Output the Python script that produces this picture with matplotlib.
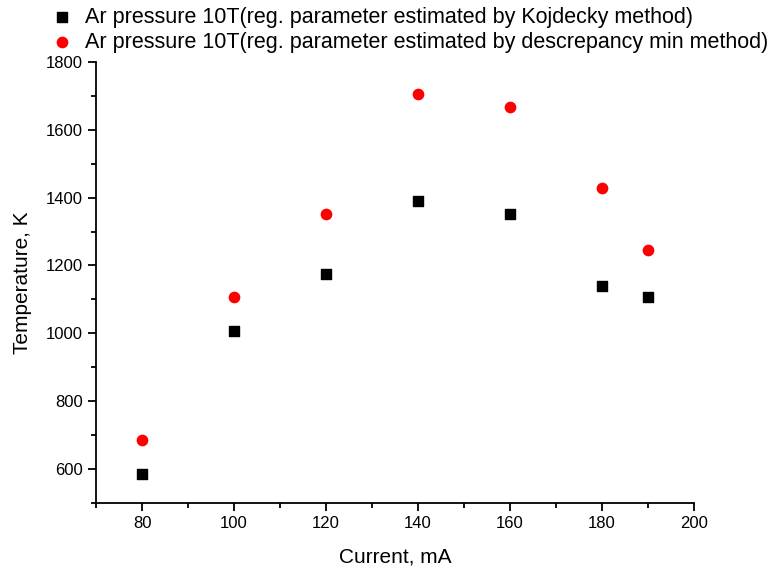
import matplotlib.pyplot as plt
from matplotlib.ticker import MultipleLocator

plt.rcParams['font.family'] = ['Liberation Sans', 'DejaVu Sans']

# Data
current = [80, 100, 120, 140, 160, 180, 190]
temp_kojdecky = [585, 1008, 1174, 1390, 1353, 1139, 1106]
temp_discrepancy = [686, 1106, 1353, 1706, 1667, 1429, 1245]

labels = ['Ar pressure 10T(reg. parameter estimated by Kojdecky method)',
          'Ar pressure 10T(reg. parameter estimated by descrepancy min method)']

fig = plt.figure(figsize=(7.72, 5.73), dpi=100)
ax = fig.add_axes([0.1244, 0.1222, 0.7746, 0.7698])

ax.scatter(current, temp_kojdecky, marker='s', s=50, color='black', label=labels[0], zorder=3)
ax.scatter(current, temp_discrepancy, marker='o', s=55, color='#ff0000', label=labels[1], zorder=3)

ax.set_xlim(70, 200)
ax.set_ylim(500, 1800)
ax.xaxis.set_major_locator(MultipleLocator(20))
ax.xaxis.set_minor_locator(MultipleLocator(10))
ax.yaxis.set_major_locator(MultipleLocator(200))
ax.yaxis.set_minor_locator(MultipleLocator(100))

for s in ['top', 'right']:
    ax.spines[s].set_visible(False)
for s in ['left', 'bottom']:
    ax.spines[s].set_linewidth(1.3)
ax.tick_params(which='major', direction='out', length=6, width=1.3, labelsize=12)
ax.tick_params(which='minor', direction='out', length=3.5, width=1.3)

ax.set_xlabel('Current, mA', fontsize=15, labelpad=12)
ax.set_ylabel('Temperature, K', fontsize=15, labelpad=10)

ax.legend(loc='lower left', bbox_to_anchor=(-0.075, 1.02), frameon=False,
          fontsize=15.5, handlelength=1.0, handletextpad=0.57, labelspacing=0.2,
          borderaxespad=0, borderpad=0)

plt.savefig('out.png', dpi=100)
